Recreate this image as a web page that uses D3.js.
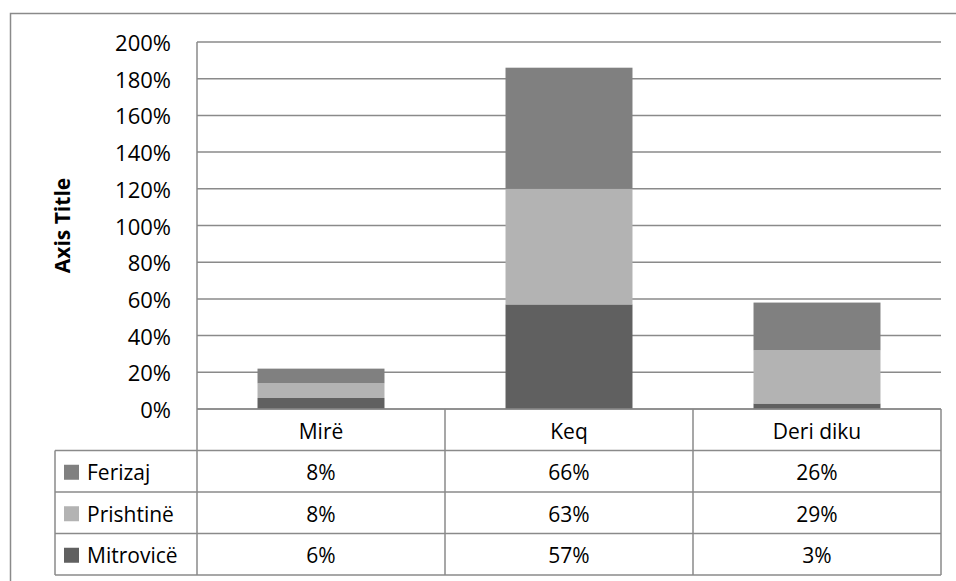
<!DOCTYPE html>
<html>
<head>
<meta charset="utf-8">
<script src="https://cdn.jsdelivr.net/npm/d3@7"></script>
<style>
  html, body { margin: 0; padding: 0; background: #fff; }
  svg { display: block; font-family: "Open Sans", "Noto Sans", sans-serif; }
</style>
</head>
<body>
<svg id="chart" width="956" height="581"></svg>
<script>
// Categories along the x axis
const categories = ["Mirë", "Keq", "Deri diku"];
// Series in table order (top row first)
const seriesNames = ["Ferizaj", "Prishtinë", "Mitrovicë"];
// Values per series, in percent
const ferizaj = [8, 66, 26];
const prishtine = [8, 63, 29];
const mitrovice = [6, 57, 3];
// Y axis tick values (percent)
const yTicks = [0, 20, 40, 60, 80, 100, 120, 140, 160, 180, 200];

const seriesValues = { "Ferizaj": ferizaj, "Prishtinë": prishtine, "Mitrovicë": mitrovice };
const colors = { "Ferizaj": "#808080", "Prishtinë": "#b3b3b3", "Mitrovicë": "#606060" };

const svg = d3.select("#chart");
const W = 956, H = 581;
const plot = { left: 197, right: 941, top: 42, bottom: 409 };
const rowH = 41.5;
const legendLeft = 55;
const lineColor = "#8a8a8a";

// Outer chart frame
svg.append("rect")
  .attr("x", 10.5).attr("y", 13.5)
  .attr("width", 960).attr("height", 600)
  .attr("fill", "#fff").attr("stroke", lineColor).attr("stroke-width", 1.5);

const x = d3.scaleBand().domain(categories).range([plot.left, plot.right]).paddingInner(0).paddingOuter(0);
const y = d3.scaleLinear().domain([0, 200]).range([plot.bottom, plot.top]);

// Gridlines
svg.append("g").selectAll("line").data(yTicks).join("line")
  .attr("x1", plot.left).attr("x2", plot.right)
  .attr("y1", d => y(d)).attr("y2", d => y(d))
  .attr("stroke", lineColor).attr("stroke-width", 1.5);

// Y tick labels
const fmt = d => d + "%";
svg.append("g").selectAll("text").data(yTicks).join("text")
  .attr("x", 171).attr("y", d => y(d))
  .attr("text-anchor", "end").attr("dominant-baseline", "central")
  .attr("font-size", 22).attr("fill", "#000")
  .text(fmt);

// Axis title
svg.append("text")
  .attr("transform", `translate(62,${(plot.top + plot.bottom) / 2}) rotate(-90)`)
  .attr("text-anchor", "middle").attr("dominant-baseline", "central")
  .attr("font-size", 21).attr("font-weight", "bold").attr("fill", "#000")
  .text("Axis Title");

// Stacked bars: Mitrovicë at the bottom, Ferizaj on top
const rows = categories.map((c, i) => {
  const r = { category: c };
  seriesNames.forEach(s => r[s] = seriesValues[s][i]);
  return r;
});
const stack = d3.stack().keys(["Mitrovicë", "Prishtinë", "Ferizaj"]);
const stacked = stack(rows);
const barW = x.bandwidth() * 0.512;

svg.append("g").selectAll("g").data(stacked).join("g")
  .attr("fill", d => colors[d.key])
  .selectAll("rect").data(d => d).join("rect")
  .attr("x", d => x(d.data.category) + (x.bandwidth() - barW) / 2)
  .attr("width", barW)
  .attr("y", d => y(d[1]))
  .attr("height", d => y(d[0]) - y(d[1]));

// Data table
const table = svg.append("g");
const tableTop = plot.bottom;
const headerBottom = tableTop + rowH;
const tableBottom = headerBottom + rowH * seriesNames.length;

// Horizontal rules
table.append("line")
  .attr("x1", plot.left).attr("x2", plot.right)
  .attr("y1", tableTop).attr("y2", tableTop)
  .attr("stroke", lineColor).attr("stroke-width", 1.5);
d3.range(seriesNames.length + 1).forEach(i => {
  const yy = headerBottom + i * rowH;
  table.append("line")
    .attr("x1", legendLeft).attr("x2", plot.right)
    .attr("y1", yy).attr("y2", yy)
    .attr("stroke", lineColor).attr("stroke-width", 1.5);
});

// Vertical rules
table.append("line")
  .attr("x1", plot.left).attr("x2", plot.left)
  .attr("y1", plot.top).attr("y2", tableBottom)
  .attr("stroke", lineColor).attr("stroke-width", 1.5);
categories.forEach(c => {
  const xx = x(c) + x.bandwidth();
  table.append("line")
    .attr("x1", xx).attr("x2", xx)
    .attr("y1", tableTop).attr("y2", tableBottom)
    .attr("stroke", lineColor).attr("stroke-width", 1.5);
});
table.append("line")
  .attr("x1", legendLeft).attr("x2", legendLeft)
  .attr("y1", headerBottom).attr("y2", tableBottom)
  .attr("stroke", lineColor).attr("stroke-width", 1.5);

// Category header
table.selectAll("text.cat").data(categories).join("text")
  .attr("class", "cat")
  .attr("x", d => x(d) + x.bandwidth() / 2)
  .attr("y", tableTop + rowH / 2 + 1)
  .attr("text-anchor", "middle").attr("dominant-baseline", "central")
  .attr("font-size", 21).attr("fill", "#000")
  .text(d => d);

// Series rows with legend keys
seriesNames.forEach((s, i) => {
  const cy = headerBottom + i * rowH + rowH / 2 + 1;
  table.append("rect")
    .attr("x", 64).attr("y", cy - 7.5)
    .attr("width", 15).attr("height", 15)
    .attr("fill", colors[s]);
  table.append("text")
    .attr("x", 87).attr("y", cy)
    .attr("dominant-baseline", "central")
    .attr("font-size", 21).attr("fill", "#000")
    .text(s);
  table.selectAll(null).data(seriesValues[s]).join("text")
    .attr("x", (d, j) => x(categories[j]) + x.bandwidth() / 2)
    .attr("y", cy)
    .attr("text-anchor", "middle").attr("dominant-baseline", "central")
    .attr("font-size", 21).attr("fill", "#000")
    .text(d => d + "%");
});
</script>
</body>
</html>
